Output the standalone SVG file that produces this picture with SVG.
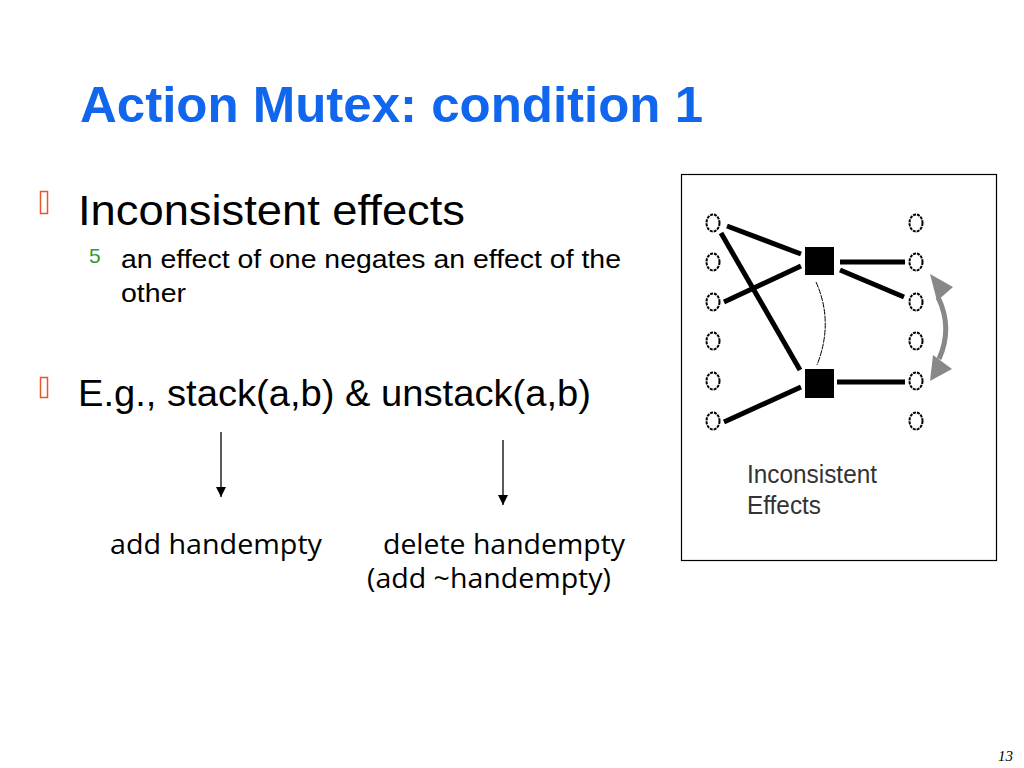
<svg xmlns="http://www.w3.org/2000/svg" width="1024" height="768" viewBox="0 0 1024 768">
<style>
.sans{font-family:"Liberation Sans",Arial,sans-serif}
.noto{font-family:"Open Sans","Noto Sans",sans-serif}
.circ{fill:#fff;stroke:#000;stroke-width:2;stroke-dasharray:3 1}
.thick{stroke:#000;stroke-width:5;stroke-linecap:butt}
.tofu{fill:none;stroke:#e8572a;stroke-width:1.5}
</style>
<defs>
<marker id="ah" markerWidth="10" markerHeight="10" refX="10" refY="5" orient="auto" markerUnits="userSpaceOnUse" viewBox="0 0 10 10">
<path d="M0,0 L10,5 L0,10 Z" fill="#000"/>
</marker>
</defs>
<rect width="1024" height="768" fill="#fff"/>
<text class="sans" x="80" y="122" font-size="50" font-weight="bold" fill="#1166ee" textLength="623" lengthAdjust="spacingAndGlyphs">Action Mutex: condition 1</text>
<g id="bullets">
<rect class="tofu" x="40.5" y="191.5" width="7" height="22"/>
<text class="sans" x="78" y="225" font-size="42" fill="#000" textLength="387" lengthAdjust="spacingAndGlyphs">Inconsistent effects</text>
<text class="sans" x="89" y="263" font-size="21" fill="#339933">5</text>
<text class="sans" x="121" y="268" font-size="25" fill="#000" textLength="500" lengthAdjust="spacingAndGlyphs">an effect of one negates an effect of the</text>
<text class="sans" x="121" y="302" font-size="25" fill="#000" textLength="65" lengthAdjust="spacingAndGlyphs">other</text>
<rect class="tofu" x="40.5" y="377.5" width="7" height="20"/>
<text class="sans" x="78" y="406" font-size="36" fill="#000" textLength="513" lengthAdjust="spacingAndGlyphs">E.g., stack(a,b) &amp; unstack(a,b)</text>
</g>
<g id="connectors">
<line x1="221" y1="432" x2="221" y2="497" stroke="#000" stroke-width="1.3" marker-end="url(#ah)"/>
<line x1="503" y1="440" x2="503" y2="505" stroke="#000" stroke-width="1.3" marker-end="url(#ah)"/>
</g>
<g id="labels">
<text class="noto" x="110" y="554" font-size="27" fill="#000" textLength="212" lengthAdjust="spacingAndGlyphs">add handempty</text>
<text class="noto" x="383" y="554" font-size="27" fill="#000" textLength="242" lengthAdjust="spacingAndGlyphs">delete handempty</text>
<text class="noto" x="367" y="588" font-size="27" fill="#000" textLength="244" lengthAdjust="spacingAndGlyphs">(add ~handempty)</text>
</g>
<g id="figure">
<rect x="681.5" y="174.5" width="315" height="386" fill="#fff" stroke="#000" stroke-width="1.2"/>
<g id="left-nodes">
<ellipse class="circ" cx="713" cy="223" rx="6.5" ry="8.5"/>
<ellipse class="circ" cx="713" cy="262" rx="6.5" ry="8.5"/>
<ellipse class="circ" cx="713" cy="302" rx="6.5" ry="8.5"/>
<ellipse class="circ" cx="713" cy="341" rx="6.5" ry="8.5"/>
<ellipse class="circ" cx="713" cy="381" rx="6.5" ry="8.5"/>
<ellipse class="circ" cx="713" cy="421" rx="6.5" ry="8.5"/>
</g>
<g id="right-nodes">
<ellipse class="circ" cx="916" cy="223" rx="6.5" ry="8.5"/>
<ellipse class="circ" cx="916" cy="262" rx="6.5" ry="8.5"/>
<ellipse class="circ" cx="916" cy="302" rx="6.5" ry="8.5"/>
<ellipse class="circ" cx="916" cy="341" rx="6.5" ry="8.5"/>
<ellipse class="circ" cx="916" cy="381" rx="6.5" ry="8.5"/>
<ellipse class="circ" cx="916" cy="421" rx="6.5" ry="8.5"/>
</g>
<g id="figure-edges">
<line class="thick" x1="727" y1="226" x2="801" y2="254"/>
<line class="thick" x1="721" y1="233" x2="800" y2="370"/>
<line class="thick" x1="724" y1="302" x2="801" y2="266"/>
<line class="thick" x1="724" y1="422" x2="801" y2="387"/>
<line class="thick" x1="840" y1="262" x2="905" y2="262"/>
<line class="thick" x1="840" y1="270" x2="904" y2="297"/>
<line class="thick" x1="837" y1="382" x2="905" y2="382"/>
<path d="M816,282 Q834,322 817,365" fill="none" stroke="#000" stroke-width="1" stroke-dasharray="6 1"/>
<path d="M938,297 Q953,328 939,359" fill="none" stroke="#888" stroke-width="5"/>
<polygon points="930,274 953,287 937,301" fill="#888"/>
<polygon points="930,381 952,369 933,355" fill="#888"/>
</g>
<g id="action-1"><rect x="805" y="247" width="29" height="28" fill="#000"/></g>
<g id="action-2"><rect x="805" y="369" width="29" height="29" fill="#000"/></g>
<text class="sans" x="747" y="483" font-size="25" fill="#333" textLength="130" lengthAdjust="spacingAndGlyphs">Inconsistent</text>
<text class="sans" x="747" y="514" font-size="25" fill="#333" textLength="74" lengthAdjust="spacingAndGlyphs">Effects</text>
</g>
<text x="998" y="761" font-family="'Liberation Serif',serif" font-style="italic" font-size="15" fill="#000">13</text>
</svg>
